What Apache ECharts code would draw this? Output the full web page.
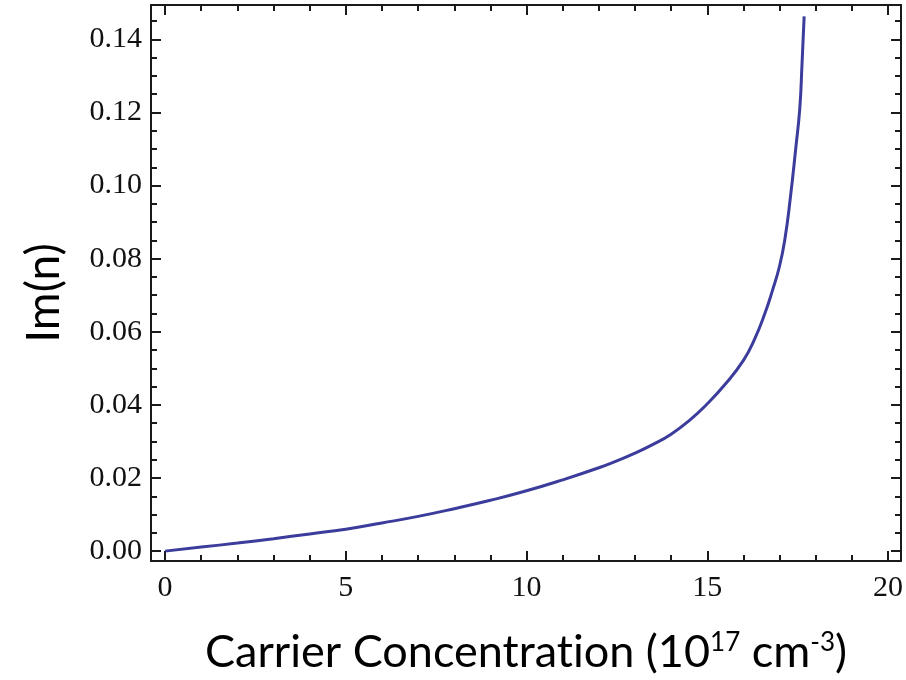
<!DOCTYPE html>
<html><head><meta charset="utf-8">
<script src="https://cdn.jsdelivr.net/npm/echarts@6.0.0/dist/echarts.min.js"></script>
<style>html,body{margin:0;padding:0;background:#fff}#c{width:906px;height:680px}</style>
</head><body><div id="c"></div>
<script>
// Data
const concentration = [0,1,2,3,4,5,6,7,8,9,10,11,12,12.5,13,13.5,14,14.5,15,15.5,16,16.3,16.6,16.8,17.0,17.15,17.3,17.45,17.56,17.62,17.68];
const imN = [0,0.0011,0.0022,0.0034,0.0047,0.0060,0.0077,0.0095,0.0116,0.0139,0.0165,0.0195,0.0228,0.0247,0.0268,0.0292,0.0320,0.0357,0.0403,0.0457,0.0522,0.0578,0.0652,0.0712,0.0780,0.0855,0.0968,0.1104,0.1212,0.1330,0.1463];
// Tick values
const xMajorTicks = [0,5,10,15,20];
const xMinorTicks = [0,1,2,3,4,5,6,7,8,9,10,11,12,13,14,15,16,17,18,19,20];
const yMajorTicks = [0,0.02,0.04,0.06,0.08,0.10,0.12,0.14];
const yMinorTicks = [0,0.005,0.01,0.015,0.02,0.025,0.03,0.035,0.04,0.045,0.05,0.055,0.06,0.065,0.07,0.075,0.08,0.085,0.09,0.095,0.1,0.105,0.11,0.115,0.12,0.125,0.13,0.135,0.14,0.145];

const X_MIN = -0.39, X_MAX = 20.36, Y_MIN = -0.0027, Y_MAX = 0.1494;
const frameColor = '#1a1a1a';
const labelFont = {fontFamily: 'Liberation Serif', fontSize: 30, color: '#111'};

function xAx(pos, major, opts) {
  return Object.assign({
    type: 'value', position: pos, min: X_MIN, max: X_MAX,
    axisLine: {show: major, onZero: false, lineStyle: {color: frameColor, width: 2}},
    axisTick: {show: true, inside: true, length: major ? 10 : 6,
      customValues: major ? xMajorTicks : xMinorTicks,
      lineStyle: {color: frameColor, width: 2}},
    axisLabel: {show: false},
    splitLine: {show: false}
  }, opts || {});
}
function yAx(pos, major, opts) {
  return Object.assign({
    type: 'value', position: pos, min: Y_MIN, max: Y_MAX,
    axisLine: {show: major, onZero: false, lineStyle: {color: frameColor, width: 2}},
    axisTick: {show: true, inside: true, length: major ? 10 : 6,
      customValues: major ? yMajorTicks : yMinorTicks,
      lineStyle: {color: frameColor, width: 2}},
    axisLabel: {show: false},
    splitLine: {show: false}
  }, opts || {});
}

const chart = echarts.init(document.getElementById('c'));
chart.setOption({
  animation: false,
  backgroundColor: '#fff',
  grid: {left: 151, right: 4, top: 5, bottom: 110, containLabel: false},
  xAxis: [
    xAx('bottom', true, {
      axisLabel: Object.assign({show: true, margin: 12, customValues: xMajorTicks,
        formatter: v => String(Math.round(v))}, labelFont),
      name: '{a|Carrier Concentrat\u200Cion (10}{s|17}{a| cm}{s|-3}{a|)}',
      nameLocation: 'middle', nameGap: 69,
      nameTextStyle: {rich: {
        a: {fontFamily: 'Lato', fontSize: 45, color: '#000'},
        s: {fontFamily: 'Lato', fontSize: 26, color: '#000', verticalAlign: 'top'}
      }}
    }),
    xAx('bottom', false),
    xAx('top', true),
    xAx('top', false)
  ],
  yAxis: [
    yAx('left', true, {
      axisLabel: Object.assign({show: true, margin: 9, customValues: yMajorTicks,
        formatter: v => v.toFixed(2)}, labelFont),
      name: 'Im(n)', nameLocation: 'middle', nameRotate: 90, nameGap: 84,
      nameTextStyle: {fontFamily: 'Lato', fontSize: 46, color: '#000', padding: [0, 20, 0, 0]}
    }),
    yAx('left', false),
    yAx('right', true),
    yAx('right', false)
  ],
  series: [{
    type: 'line', xAxisIndex: 0, yAxisIndex: 0,
    data: concentration.map((x, i) => [x, imN[i]]),
    showSymbol: false, smooth: 0.5,
    lineStyle: {color: '#3c3c9c', width: 3},
    clip: true
  }]
});
</script></body></html>
